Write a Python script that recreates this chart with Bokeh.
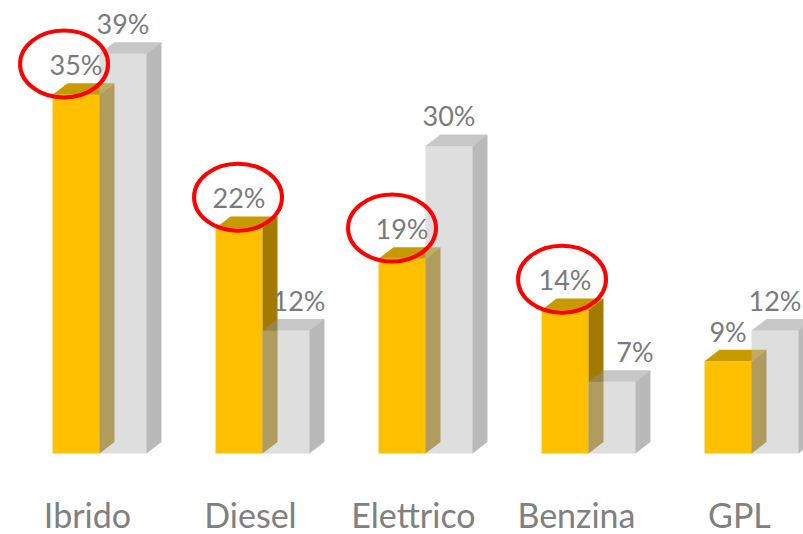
from bokeh.plotting import figure
from bokeh.models import ColumnDataSource, Range1d
from bokeh.core.properties import value
from bokeh.embed import file_html
from bokeh.resources import INLINE

# ---- data ----
categories = ["Ibrido", "Diesel", "Elettrico", "Benzina", "GPL"]
serie_gialla = [35, 22, 19, 14, 9]
serie_grigia = [39, 12, 30, 7, 12]
evidenziati = [True, True, True, True, False]
etichette_gialla = [f"{v}%" for v in serie_gialla]
etichette_grigia = [f"{v}%" for v in serie_grigia]

# ---- style / geometry constants ----
W, H = 803, 534
BAR_W = 0.288      # bar width in category units
DX = 0.092         # 3D depth (x, category units)
DY = 1.12          # 3D depth (y, percent units)
LABEL_GAP = 2.93   # gap between bar top and value label middle (percent units)
GREY_LABEL_DX_PX = [0, 13, 0, 23, 0]  # manual nudges of grey labels
CAT_SHIFT = -0.074 # category label horizontal shift
CAT_Y = -5.95      # category label middle (percent units)
ELL_DX_PX = [-12, -1, -10, -3, 0]
ELL_DY = 3.0
PX_PER_CAT = 163.0
FONT = value("Lato")
TEXT_COL = "#7a7a7a"

p = figure(width=W, height=H, x_range=Range1d(-0.6074, 4.319), y_range=Range1d(-7.902, 44.195),
           output_backend="svg", toolbar_location=None, min_border=0,
           x_axis_type=None, y_axis_type=None, background_fill_color="white")
p.outline_line_color = None
p.grid.visible = False

idx = list(range(len(categories)))


def faces(lefts, vals):
    rights = [l + BAR_W for l in lefts]
    top_xs = [[l, r, r + DX, l + DX] for l, r in zip(lefts, rights)]
    top_ys = [[v, v, v + DY, v + DY] for v in vals]
    side_xs = [[r, r + DX, r + DX, r] for r in rights]
    side_ys = [[0, DY, v + DY, v] for v in vals]
    return rights, top_xs, top_ys, side_xs, side_ys


# yellow series
yl = [i - BAR_W for i in idx]
yr, ytx, yty, ysx, ysy = faces(yl, serie_gialla)
p.quad(left=yl, right=yr, bottom=0, top=serie_gialla, fill_color="#ffc000", line_color=None)
p.patches(ytx, yty, fill_color="#c79a00", line_color=None)
p.patches(ysx, ysy, fill_color="#a27a00", line_color=None)

# grey series (semi-transparent, drawn over the yellow side)
gl = [i for i in idx]
gr, gtx, gty, gsx, gsy = faces(gl, serie_grigia)
p.quad(left=gl, right=gr, bottom=0, top=serie_grigia, fill_color="#bdbdbd", fill_alpha=0.5, line_color=None)
p.patches(gtx, gty, fill_color="#8f8f8f", fill_alpha=0.5, line_color=None)
p.patches(gsx, gsy, fill_color="#737373", fill_alpha=0.5, line_color=None)

# value labels
p.text(x=[l + BAR_W / 2 for l in yl], y=[v + LABEL_GAP for v in serie_gialla], text=etichette_gialla,
       text_font=FONT, text_font_size="27px", text_color=TEXT_COL,
       text_align="center", text_baseline="middle")
p.text(x=[l + BAR_W / 2 + d / PX_PER_CAT for l, d in zip(gl, GREY_LABEL_DX_PX)],
       y=[v + LABEL_GAP for v in serie_grigia], text=etichette_grigia,
       text_font=FONT, text_font_size="27px", text_color=TEXT_COL,
       text_align="center", text_baseline="middle")

# category labels
p.text(x=[i + CAT_SHIFT for i in idx], y=[CAT_Y] * len(idx), text=categories,
       text_font=FONT, text_font_size="34px", text_color="#808080",
       text_align="center", text_baseline="middle")

# red highlight ellipses
ex = [l + BAR_W / 2 for l, h in zip(yl, evidenziati) if h]
ey = [v + ELL_DY for v, h in zip(serie_gialla, evidenziati) if h]
edx = [d for d, h in zip(ELL_DX_PX, evidenziati) if h]
src = ColumnDataSource(dict(x=[x + d / PX_PER_CAT for x, d in zip(ex, edx)], y=ey))
p.ellipse(x="x", y="y", width=88, height=67, width_units="screen", height_units="screen",
          source=src, fill_color=None, line_color="#ff0000", line_width=4)

open("out.html", "w").write(file_html(p, INLINE))
